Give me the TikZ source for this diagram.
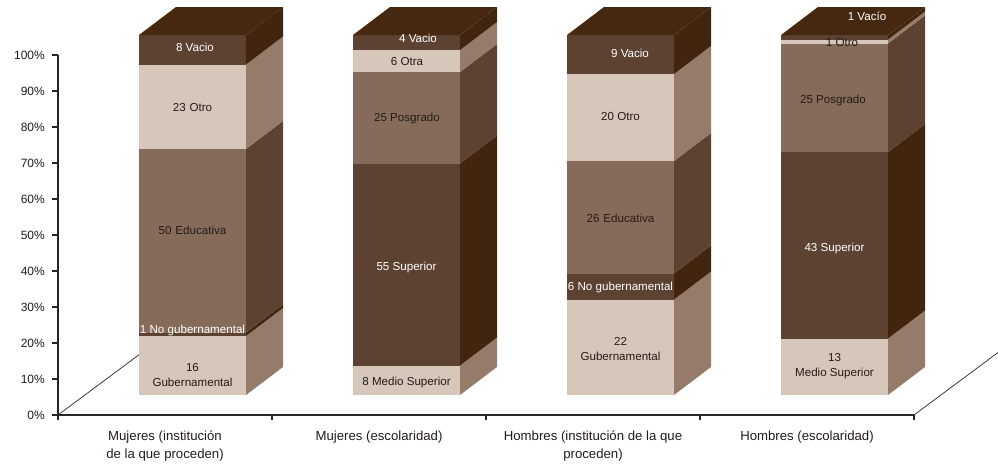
\documentclass[tikz,border=0pt]{standalone}
\usepackage{fontspec}
\setmainfont{Liberation Sans}
\usepackage{tikz}

\definecolor{lightfront}{HTML}{D7C6BA}
\definecolor{lightside}{HTML}{967B6B}
\definecolor{midfront}{HTML}{866B5B}
\definecolor{midside}{HTML}{5D4232}
\definecolor{darkfront}{HTML}{5D4232}
\definecolor{darkside}{HTML}{42250F}
\definecolor{topface}{HTML}{45280F}
\definecolor{inkdark}{HTML}{221C18}
\definecolor{axisink}{HTML}{2B2522}

\tikzstyle{seglabel} = [font=\fontsize{11.6}{15}\selectfont, text=inkdark, align=center, inner sep=0pt]
\tikzstyle{seglabelw} = [seglabel, text=white]
\tikzstyle{ticklabel} = [font=\fontsize{12}{13}\selectfont, text=inkdark, anchor=east, inner sep=0pt]
\tikzstyle{catlabel} = [font=\fontsize{13.2}{18}\selectfont, text=inkdark, align=center, anchor=north, inner sep=0pt]
\tikzstyle{axis} = [draw=axisink, line width=1.1pt]
\tikzstyle{floor} = [draw=axisink, line width=0.7pt]

% one slice of a bar: left x, bottom y, top y, front colour, side colour
\newcommand{\barseg}[5]{%
  \fill[#4] (#1,#2) rectangle (#1+107,#3);
  \fill[#5] (#1+107,#2) -- (#1+144,#2-28) -- (#1+144,#3-28) -- (#1+107,#3) -- cycle;
}
% top face of a bar
\newcommand{\bartop}[1]{%
  \fill[topface] (#1,35) -- (#1+107,35) -- (#1+144,7) -- (#1+37,7) -- cycle;
}

\begin{document}
\begin{tikzpicture}[x=1pt, y=-1pt]
	\useasboundingbox (0,0) rectangle (998,469);

	\coordinate (origin) at (58,415);
	\coordinate (ytop) at (58,55);
	\coordinate (xend) at (914,415);
	\coordinate (lback) at (142,352.5);
	\coordinate (rback) at (998,352.5);

	\draw [floor] (origin) -- (lback);
	\draw [floor] (xend) -- (rback);

	% Mujeres (institucion)
	\foreach \lo/\hi/\fr/\sd in {395/336/lightfront/lightside, 336/332.5/darkfront/darkside,
		332.5/149/midfront/midside, 149/64.5/lightfront/lightside, 64.5/35/darkfront/darkside}
		{\barseg{139}{\lo}{\hi}{\fr}{\sd}}
	\bartop{139}
	% Mujeres (escolaridad)
	\foreach \lo/\hi/\fr/\sd in {395/365.5/lightfront/lightside, 365.5/163.5/darkfront/darkside,
		163.5/72/midfront/midside, 72/50/lightfront/lightside, 50/35/darkfront/darkside}
		{\barseg{353}{\lo}{\hi}{\fr}{\sd}}
	\bartop{353}
	% Hombres (institucion)
	\foreach \lo/\hi/\fr/\sd in {395/299.5/lightfront/lightside, 299.5/273.5/darkfront/darkside,
		273.5/161/midfront/midside, 161/74/lightfront/lightside, 74/35/darkfront/darkside}
		{\barseg{567}{\lo}{\hi}{\fr}{\sd}}
	\bartop{567}
	% Hombres (escolaridad)
	\foreach \lo/\hi/\fr/\sd in {395/338.5/lightfront/lightside, 338.5/152/darkfront/darkside,
		152/43.5/midfront/midside, 43.5/39.5/lightfront/lightside, 39.5/35/darkfront/darkside}
		{\barseg{781}{\lo}{\hi}{\fr}{\sd}}
	\bartop{781}

	\node (mivacio) [seglabelw] at (195,47) {8 Vacio};
	\node (miotro) [seglabel] at (192.5,108) {23\,\,Otro};
	\node (mieduc) [seglabel] at (192.5,230) {50\,\,Educativa};
	\node (minogub) [seglabelw] at (192.5,330) {1 No gubernamental};
	\node (migub) [seglabel] at (192.5,375) {16\\Gubernamental};

	\node (mevacio) [seglabelw] at (418,38) {4 Vacio};
	\node (meotra) [seglabel] at (407,62) {6 Otra};
	\node (mepos) [seglabel] at (407,118) {25 Posgrado};
	\node (mesup) [seglabelw] at (406.5,267) {55 Superior};
	\node (medsup) [seglabel] at (406.5,382) {8 Medio Superior};

	\node (hivacio) [seglabelw] at (630,53) {9 Vacio};
	\node (hiotro) [seglabel] at (620.5,117) {20 Otro};
	\node (hieduc) [seglabel] at (620.5,218) {26\,\,Educativa};
	\node (hinogub) [seglabelw] at (620.5,287) {6 No gubernamental};
	\node (higub) [seglabel] at (620.5,349) {22\\Gubernamental};

	\node (hevacio) [seglabelw] at (867,16) {1 Vacío};
	\node (heotro) [seglabel] at (842,43) {1 Otro};
	\node (hepos) [seglabel] at (833,100) {25 Posgrado};
	\node (hesup) [seglabelw] at (834.5,248) {43 Superior};
	\node (hedsup) [seglabel] at (834.5,366) {13\\Medio Superior};

	% axes
	\draw [axis] (ytop) -- (origin) -- (xend);
	\foreach \p in {0,10,...,100} {
		\draw [axis] (52,415-3.6*\p) -- (58,415-3.6*\p);
		\node (tick\p) [ticklabel] at (45,415-3.6*\p) {\p\%};
	}
	\foreach \x in {58,272,486,700,914}
		\draw [axis] (\x,415) -- (\x,420);

	\node (catmi) [catlabel] at (165,431) {Mujeres (institución\\de la que proceden)};
	\node (catme) [catlabel] at (379,431) {Mujeres (escolaridad)};
	\node (cathi) [catlabel] at (593,431) {Hombres (institución de la que\\proceden)};
	\node (cathe) [catlabel] at (807,431) {Hombres (escolaridad)};
\end{tikzpicture}
\end{document}
